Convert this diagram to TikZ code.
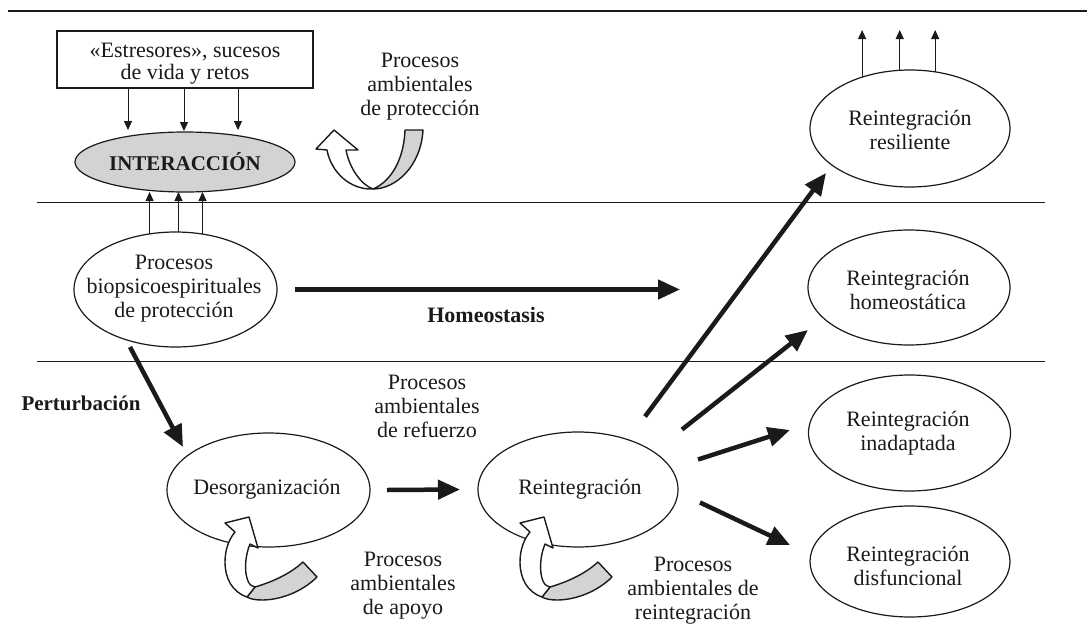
\documentclass[tikz,border=0pt]{standalone}
\usepackage{fontspec}
\setmainfont{Liberation Serif}
\usetikzlibrary{arrows.meta,shapes.geometric,calc}
\definecolor{shade}{HTML}{D3D3D3}
\definecolor{ink}{HTML}{1A1A1A}

\begin{document}
\begin{tikzpicture}[x=1pt,y=-1pt,
  every node/.style={inner sep=0pt, outer sep=0pt},
  oval/.style={draw=ink, line width=1.2pt, ellipse, inner sep=0pt},
  lbl/.style={align=center, font=\fontsize{22}{24}\selectfont, text=ink},
  blbl/.style={font=\fontsize{21}{24}\selectfont\bfseries, text=ink},
  thinarrow/.style={draw=ink, line width=1pt, -{Triangle[length=9pt,width=8pt]}},
  fatarrow/.style={draw=ink, line width=4.5pt, -{Triangle[length=22pt,width=19pt]}},
  sepline/.style={draw=ink, line width=1pt},
  ribbon/.style={draw=ink, line width=1.4pt, line join=round},
  loopback/.pic={
    % grey back face of the twisted band
    \filldraw[ribbon, fill=shade] (15,27) .. controls (32,22) and (50,14) .. (63,2)
      -- (77,17) .. controls (62,32) and (40,40) .. (22,40)
      .. controls (16,40) and (10,39) .. (7,37) -- cycle;
    % white front face with the arrow head
    \filldraw[ribbon, fill=white] (-5,-28) -- (-15,-37) -- (9,-43) -- (18,-12) -- (10,-16)
      .. controls (5,-4) and (4,12) .. (8,21) .. controls (10,25) .. (15,27) -- (7,37)
      .. controls (-8,32) and (-15,18) .. (-15,2)
      .. controls (-15,-12) and (-10,-22) .. (-5,-28) -- cycle;
  },
]
\useasboundingbox (0,0) rectangle (1087,635);
\fill[white] (0,0) rectangle (1087,635);

% separating rules
\draw[sepline, line width=1.5pt] (8,11) -- (1087,11);
\draw[sepline] (37,202) -- (1045,202);
\draw[sepline] (37,361) -- (1045,361);

% nodes
\node[draw=ink, line width=1.2pt, minimum width=256pt, minimum height=57pt] (box) at (185,59.5) {};
\node[lbl, font=\fontsize{22}{22}\selectfont] at (185,64) {«Estresores», sucesos\\de vida y retos};

\node[oval, fill=shade, minimum width=220pt, minimum height=60pt,
      font=\fontsize{21}{24}\selectfont\bfseries, text=ink] (inter) at (185,162) {INTERACCIÓN};

\node[oval, minimum width=203pt, minimum height=115pt] (bio) at (175.5,289.5) {};
\node[lbl] at (174,289) {Procesos\\biopsicoespirituales\\de protección};

\node[oval, minimum width=203pt, minimum height=114pt] (des) at (268.5,490) {};
\node[lbl] at (267,489) {Desorganización};

\node[oval, minimum width=200pt, minimum height=115pt] (rein) at (578,489.5) {};
\node[lbl] at (580,489) {Reintegración};

\node[oval, minimum width=200pt, minimum height=117pt] (resil) at (910,128.5) {};
\node[lbl] at (910,130) {Reintegración\\resiliente};

\node[oval, minimum width=202pt, minimum height=115pt] (homeo) at (909,287.5) {};
\node[lbl] at (908,290) {Reintegración\\homeostática};

\node[oval, minimum width=202pt, minimum height=116pt] (inad) at (909.5,433) {};
\node[lbl] at (908,433) {Reintegración\\inadaptada};

\node[oval, minimum width=200pt, minimum height=111pt] (disf) at (910,561.5) {};
\node[lbl] at (908,565.5) {Reintegración\\disfuncional};

% free labels
\node[lbl] at (420,87) {Procesos\\ambientales\\de protección};
\node[lbl] at (427,406) {Procesos\\ambientales\\de refuerzo};
\node[lbl] at (403,586) {Procesos\\ambientales\\de apoyo};
\node[lbl] at (693,591) {Procesos\\ambientales de\\reintegración};
\node[blbl, font=\fontsize{22}{24}\selectfont\bfseries] at (486,315) {Homeostasis};
\node[blbl] at (81,403) {Perturbación};

% stressors acting on the interaction
\draw[thinarrow] ([xshift=-57pt]box.south) -- ([xshift=-57pt,yshift=2pt]inter.north);
\draw[thinarrow] ([xshift=-1pt]box.south) -- ([xshift=-1pt,yshift=1pt]inter.north);
\draw[thinarrow] ([xshift=53pt]box.south) -- ([xshift=53pt,yshift=2pt]inter.north);

% protective processes feeding the interaction
\draw[thinarrow] (bio.115) -- (bio.115 |- inter.south);
\draw[thinarrow] (bio.87) -- (bio.87 |- inter.south);
\draw[thinarrow] (bio.64) -- (bio.64 |- inter.south);

% outputs of resilient reintegration
\coordinate (sky) at (910,30);
\draw[thinarrow] (resil.133) -- (resil.133 |- sky);
\draw[thinarrow] (resil.100) -- (resil.100 |- sky);
\draw[thinarrow] (resil.66) -- (resil.66 |- sky);

% main flow
\draw[fatarrow] ([xshift=18pt]bio.east) -- ++(385,0);
\draw[fatarrow] ($(bio)+(-45.5,57.5)$) -- ($(des)+(-85.5,-43)$);
\draw[fatarrow] ($(des)+(118.5,0)$) -- ($(rein)+(-118,0)$);
\draw[fatarrow] ($(rein)+(67,-73)$) -- ($(resil)+(-84,44.5)$);
\draw[fatarrow] ($(rein)+(104,-60)$) -- ($(homeo)+(-101,42.5)$);
\draw[fatarrow] ($(rein)+(120,-30)$) -- ($(inad)+(-119.5,-3)$);
\draw[fatarrow] ($(rein)+(122,13)$) -- ($(disf)+(-120,-16.5)$);

% environmental processes: twisted band arrows
\filldraw[ribbon, fill=shade] (373,189) .. controls (396,189) and (421,166) .. (423,130)
  -- (405,130) .. controls (404,158) and (392,181) .. (373,189) -- cycle;
\filldraw[ribbon, fill=white] (327,150) -- (316,149) -- (334,130) -- (358,150) -- (346,150)
  .. controls (350,170) and (362,185) .. (373,189)
  .. controls (350,190) and (331,172) .. (327,150) -- cycle;

\pic at (240,560) {loopback};
\pic at (535,560) {loopback};
\end{tikzpicture}
\end{document}
